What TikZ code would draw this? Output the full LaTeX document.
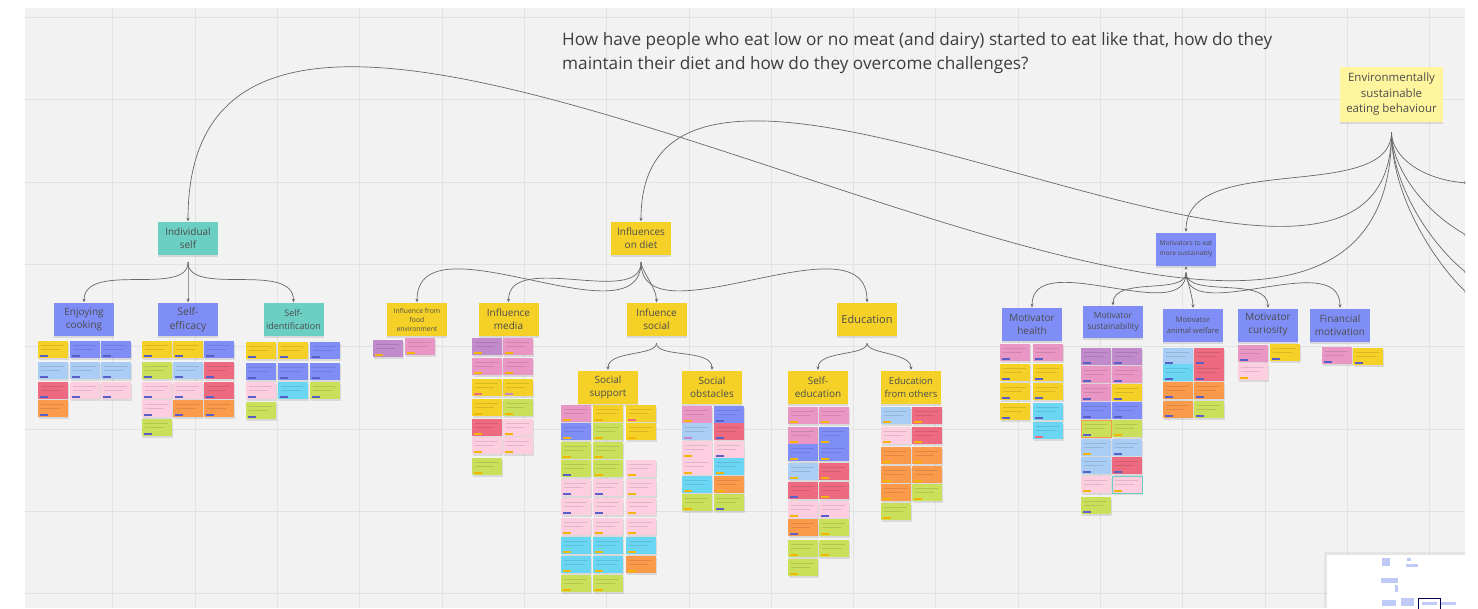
\documentclass[tikz,border=0pt]{standalone}
\usepackage{fontspec}
\setmainfont{Open Sans}
\usetikzlibrary{arrows.meta,shadows}

\definecolor{canvas}{HTML}{F2F2F2}
\definecolor{gridc}{HTML}{E2E2E2}
\definecolor{cline}{HTML}{686868}
\definecolor{ctitle}{HTML}{3D3D3D}
\definecolor{cyel}{HTML}{F5D128}
\definecolor{cpale}{HTML}{FFF59E}
\definecolor{cteal}{HTML}{6CCFC4}
\definecolor{cvio}{HTML}{7F8EF7}
\definecolor{cpink}{HTML}{E996C4}
\definecolor{clpink}{HTML}{FDCDE0}
\definecolor{cred}{HTML}{EE6A80}
\definecolor{corange}{HTML}{FC9A4C}
\definecolor{clime}{HTML}{CBE05A}
\definecolor{clblue}{HTML}{A9CDF4}
\definecolor{ccyan}{HTML}{6BD6F4}
\definecolor{cpurple}{HTML}{C08ACB}
\definecolor{ctag}{HTML}{5A5FC8}
\definecolor{ctagy}{HTML}{F2B705}
\definecolor{cmap}{HTML}{BFCBF6}

% one sticky note: [tag colour]{x}{y}{fill}
\newcommand{\stk}[4][ctag]{%
  \fill[black,opacity=.10] (#2+.5,#3+1.5) rectangle +(30,17);
  \fill[#4] (#2,#3) rectangle +(30,17);
  \fill[#4!55!black,opacity=.25] (#2+3,#3+4) rectangle +(23,1);
  \fill[#4!55!black,opacity=.25] (#2+3,#3+7.5) rectangle +(19,1);
  \fill[#1] (#2+2,#3+14) rectangle +(8,1.6);
}

\tikzset{
  hdr/.style={rectangle, fill=#1, minimum width=60pt, minimum height=33pt,
    inner sep=1pt, align=center, text=black!70,
    font=\fontsize{10}{13}\selectfont,
    drop shadow={shadow xshift=0pt, shadow yshift=-2pt, opacity=.22}},
  conn/.style={draw=cline, line width=.7pt,
    -{Stealth[length=3.5pt,width=3pt]}, shorten <=7pt, shorten >=.5pt},
  mc/.style={to path={.. controls +(0,#1) and +(0,-#1) .. (\tikztotarget) \tikztonodes}},
  mce/.style args={#1/#2}{to path={.. controls +(0,#1) and +(#2) .. (\tikztotarget) \tikztonodes}}
}

\begin{document}
\begin{tikzpicture}[x=1pt,y=-1pt]
\useasboundingbox (0,0) rectangle (1478,608);
\fill[white] (0,0) rectangle (1478,608);

\begin{scope}
\clip (25,8) rectangle (1465,608);
\fill[canvas] (25,8) rectangle (1465,608);
\foreach \gx in {112,195,277,359,442,524,606,689,771,853,935,1018,1100,1182,1265,1347,1429}
  \draw[gridc,line width=.6pt] (\gx,8) -- (\gx,608);
\foreach \gy in {17,99,182,264,346,429,511,593}
  \draw[gridc,line width=.6pt] (25,\gy) -- (1465,\gy);

% question
\node[anchor=base west, inner sep=0pt, text=ctitle, font=\fontsize{17.2}{24}\selectfont] (q1) at (562,45)
  {How have people who eat low or no meat (and dairy) started to eat like that, how do they};
\node[anchor=base west, inner sep=0pt, text=ctitle, font=\fontsize{17.2}{24}\selectfont] (q2) at (562,69)
  {maintain their diet and how do they overcome challenges?};

% top
\node[hdr=cpale, minimum width=103pt, minimum height=55pt, font=\fontsize{11.5}{15.5}\selectfont] (env) at (1391.5,94.5)
  {Environmentally\\sustainable\\eating behaviour};
\node[hdr=cteal] (ind) at (188,238.5) {Individual\\self};
\node[hdr=cyel] (inf) at (641,238.5) {Influences\\on diet};
\node[hdr=cvio, font=\fontsize{6.6}{9.5}\selectfont] (mot) at (1186,249) {Motivators to eat\\more sustainably};

% second row
\node[hdr=cvio] (enj) at (84,319.5) {Enjoying\\cooking};
\node[hdr=cvio, font=\fontsize{10.5}{13.5}\selectfont] (eff) at (188,319.5) {Self-\\efficacy};
\node[hdr=cteal, font=\fontsize{9}{13}\selectfont] (sid) at (293.5,319.5) {Self-\\identification};
\node[hdr=cyel, font=\fontsize{6.8}{9}\selectfont] (food) at (417,319.5) {Influence from\\food\\environment};
\node[hdr=cyel] (med) at (508.5,319.5) {Influence\\media};
\node[hdr=cyel] (soc) at (656.5,319.5) {Infuence\\social};
\node[hdr=cyel, font=\fontsize{11}{13}\selectfont] (edu) at (867,319.5) {Education};
\node[hdr=cvio] (hea) at (1032,324.5) {Motivator\\health};
\node[hdr=cvio, minimum height=32pt, font=\fontsize{8.4}{11.5}\selectfont] (sus) at (1113,322) {Motivator\\sustainability};
\node[hdr=cvio, font=\fontsize{7.6}{11}\selectfont] (anw) at (1193,325) {Motivator\\animal welfare};
\node[hdr=cvio] (cur) at (1268,325) {Motivator\\curiosity};
\node[hdr=cvio] (fin) at (1340,325) {Financial\\motivation};

% third row
\node[hdr=cyel] (sup) at (608,387) {Social\\support};
\node[hdr=cyel] (obs) at (712,387) {Social\\obstacles};
\node[hdr=cyel] (sed) at (818,387) {Self-\\education};
\node[hdr=cyel, font=\fontsize{9.5}{13}\selectfont] (eo) at (911,387) {Education\\from others};

% branches leaving to the right
\coordinate (r1) at (1468,183);
\coordinate (r2) at (1468,236);
\coordinate (r3) at (1468,274);
\coordinate (r4) at (1468,294);

\path[conn]
  (env.south) edge[mc=490, shorten <=10pt] (ind.north)
  (env.south) edge[mc=300, shorten <=10pt] (inf.north)
  (env.south) edge[mc=82, shorten <=10pt] (mot.north)
  (env.south) edge[mce={35/-45,-3}, shorten <=10pt] (r1)
  (env.south) edge[mce={45/-45,-25}, shorten <=10pt] (r2)
  (env.south) edge[mce={60/-40,-32}, shorten <=10pt] (r3)
  (env.south) edge[mce={75/-32,-30}, shorten <=10pt] (r4)
  (ind.south) edge[mc=42] (enj.north)
  (ind.south) edge[mc=10] (eff.north)
  (ind.south) edge[mc=42] (sid.north)
  (inf.south) edge[mc=90] (food.north)
  (inf.south) edge[mc=53] (med.north)
  (inf.south) edge[mc=15] (soc.north)
  (inf.south) edge[mc=90] (edu.north)
  (soc.south) edge[mc=20] (sup.north)
  (soc.south) edge[mc=22] (obs.north)
  (edu.south) edge[mc=20] (sed.north)
  (edu.south) edge[mc=18] (eo.north)
  (mot.south) edge[mc=62] (hea.north)
  (mot.south) edge[mc=30] (sus.north)
  (mot.south) edge[mc=10] (anw.north)
  (mot.south) edge[mc=33] (cur.north)
  (mot.south) edge[mc=62] (fin.north);

% notes: enjoying cooking
\stk{38}{341}{cyel} \stk{70}{341}{cvio} \stk{101}{341}{cvio}
\stk{38}{362}{clblue} \stk{70}{362}{clblue} \stk{101}{362}{clblue}
\stk{38}{382}{cred} \stk{70}{382}{clpink} \stk{101}{382}{clpink}
\stk{38}{400}{corange}
% self-efficacy
\stk{142}{341}{cyel} \stk{173}{341}{cyel} \stk{204}{341}{cvio}
\stk{142}{362}{clime} \stk{173}{362}{clblue} \stk{204}{362}{cred}
\stk{142}{382}{clpink} \stk{173}{382}{clpink} \stk{204}{382}{cred}
\stk{142}{400}{clpink} \stk{173}{400}{corange} \stk{204}{400}{corange}
\stk{142}{419}{clime}
% self-identification
\stk{246}{342}{cyel} \stk{278}{342}{cyel} \stk{310}{342}{cvio}
\stk{246}{363}{cvio} \stk{278}{363}{cvio} \stk{310}{363}{cvio}
\stk{246}{382}{clpink} \stk{278}{382}{ccyan} \stk{310}{382}{clime}
\stk{246}{402}{clime}
% food environment
\stk[ctagy]{373}{340}{cpurple} \stk[ctagy]{405}{338}{cpink}
% media
\stk[ctagy]{472}{338}{cpurple} \stk[ctagy]{503}{338}{cpink}
\stk[ctagy]{472}{358}{cpink} \stk[ctagy]{503}{358}{cpink}
\stk[cred]{472}{379}{cyel} \stk[cpurple]{503}{379}{cyel}
\stk[ctagy]{472}{399}{cyel} \stk[ctagy]{503}{399}{clime}
\stk[ctagy]{472}{419}{cred} \stk[ctagy]{503}{419}{clpink}
\stk[ctagy]{472}{437}{clpink} \stk[ctagy]{503}{437}{clpink}
\stk[ctagy]{472}{458}{clime}
% social support
\stk[ctagy]{561}{405}{cpink} \stk[ctagy]{593}{405}{cyel} \stk[cred]{626}{405}{cyel}
\stk[ctagy]{561}{423}{cvio} \stk[ctagy]{593}{423}{clime} \stk[ctagy]{626}{423}{cyel}
\stk[ctagy]{561}{442}{clime} \stk[ctagy]{593}{442}{clime}
\stk{561}{460}{clime} \stk[ctagy]{593}{460}{clime} \stk[ctagy]{626}{460}{clpink}
\stk{561}{479}{clpink} \stk{593}{479}{clpink} \stk[ctagy]{626}{479}{clpink}
\stk{561}{498}{clpink} \stk{593}{498}{clpink} \stk[ctagy]{626}{498}{clpink}
\stk[ctagy]{561}{518}{clpink} \stk[ctagy]{593}{518}{clpink} \stk[ctagy]{626}{518}{clpink}
\stk[ctagy]{561}{537}{ccyan} \stk[ctagy]{593}{537}{ccyan} \stk[ctagy]{626}{537}{ccyan}
\stk[ctagy]{561}{556}{ccyan} \stk[ctagy]{593}{556}{ccyan} \stk[ctagy]{626}{556}{corange}
\stk[ctagy]{561}{575}{clime} \stk[ctagy]{593}{575}{clime}
% social obstacles
\stk[ctagy]{682}{406}{cpink} \stk{714}{406}{cvio}
\stk[cpurple]{682}{423}{clblue} \stk{714}{423}{cred}
\stk[ctagy]{682}{441}{clpink} \stk{714}{441}{clpink}
\stk[ctagy]{682}{458}{clpink} \stk[ctagy]{714}{458}{ccyan}
\stk[ctagy]{682}{476}{ccyan} \stk[ctagy]{714}{476}{corange}
\stk[ctagy]{682}{494}{clime} \stk{714}{494}{clime}
% self-education
\stk[ctagy]{788}{407}{cpink} \stk[ctagy]{819}{407}{cpink}
\stk[ctagy]{788}{427}{cpink} \stk[ctagy]{819}{427}{cvio}
\stk[ctagy]{788}{444}{cvio} \stk[ctagy]{819}{444}{cvio}
\stk[ctagy]{788}{463}{clblue} \stk[ctagy]{819}{463}{cred}
\stk{788}{482}{cred} \stk[ctagy]{819}{482}{cred}
\stk[ctagy]{788}{501}{clpink} \stk{819}{501}{clpink}
\stk{788}{519}{corange} \stk[ctagy]{819}{519}{clime}
\stk[ctagy]{788}{540}{clime} \stk[ctagy]{819}{540}{clime}
\stk[ctagy]{788}{559}{clime}
% education from others
\stk[ctagy]{881}{407}{clblue} \stk[ctagy]{912}{407}{cred}
\stk[ctagy]{881}{427}{clpink} \stk[ctagy]{912}{427}{cred}
\stk[ctagy]{881}{447}{corange} \stk[ctagy]{912}{447}{corange}
\stk[ctagy]{881}{466}{corange} \stk[ctagy]{912}{466}{corange}
\stk[ctagy]{881}{484}{corange} \stk[ctagy]{912}{484}{clime}
\stk[ctagy]{881}{503}{clime}
% motivator health
\stk{1000}{344}{cpink} \stk{1033}{344}{cpink}
\stk{1000}{364}{cyel} \stk{1033}{364}{cyel}
\stk{1000}{383}{cyel} \stk{1033}{383}{cyel}
\stk{1000}{403}{cyel} \stk{1033}{403}{ccyan}
\stk[cred]{1033}{422}{ccyan}
% motivator sustainability
\stk{1081}{348}{cpurple} \stk{1112}{348}{cpurple}
\stk{1081}{366}{cpink} \stk{1112}{366}{cpink}
\stk{1081}{384}{cpink} \stk{1112}{384}{cyel}
\stk{1081}{402}{cvio} \stk{1112}{402}{cvio}
\stk{1081}{420}{clime} \stk[ctagy]{1112}{420}{clime}
\draw[corange,line width=.8pt] (1081,420) rectangle +(30,17);
\stk[ctagy]{1081}{439}{clblue} \stk{1112}{439}{clblue}
\stk{1081}{457}{clblue} \stk{1112}{457}{cred}
\stk[ctagy]{1081}{476}{clpink} \stk[ctagy]{1112}{476}{clpink}
\draw[cteal,line width=.8pt] (1112,476) rectangle +(30,17);
\stk{1081}{497}{clime}
% motivator animal welfare
\stk{1163}{348}{clblue} \stk{1194}{348}{cred}
\stk{1163}{364}{ccyan} \stk{1194}{364}{cred}
\stk{1163}{382}{corange} \stk{1194}{382}{corange}
\stk{1163}{401}{corange} \stk{1194}{401}{clime}
% motivator curiosity
\stk{1238}{345}{cpink} \stk{1270}{344}{cyel}
\stk[ctagy]{1238}{363}{clpink}
% financial motivation
\stk{1322}{347}{cpink} \stk{1353}{348}{cyel}
\end{scope}

% overview map
\fill[black,opacity=.05] (1324,552) rectangle (1465,608);
\fill[white] (1327,555) rectangle (1465,608);
\fill[cmap] (1382,558) rectangle (1390,566);
\fill[cmap] (1407,558) rectangle (1411,561);
\fill[cmap] (1406,564) rectangle (1418,567);
\fill[cmap] (1381,578) rectangle (1398,583);
\fill[cmap] (1395,585) rectangle (1398,592);
\fill[cmap] (1382,600) rectangle (1396,606);
\fill[cmap] (1401,598) rectangle (1414,606);
\fill[cmap] (1422,602) rectangle (1437,605);
\fill[cmap] (1441,602) rectangle (1456,604.5);
\draw[black!70!blue,line width=.9pt] (1418,598) rectangle (1440,609);
\end{tikzpicture}
\end{document}
